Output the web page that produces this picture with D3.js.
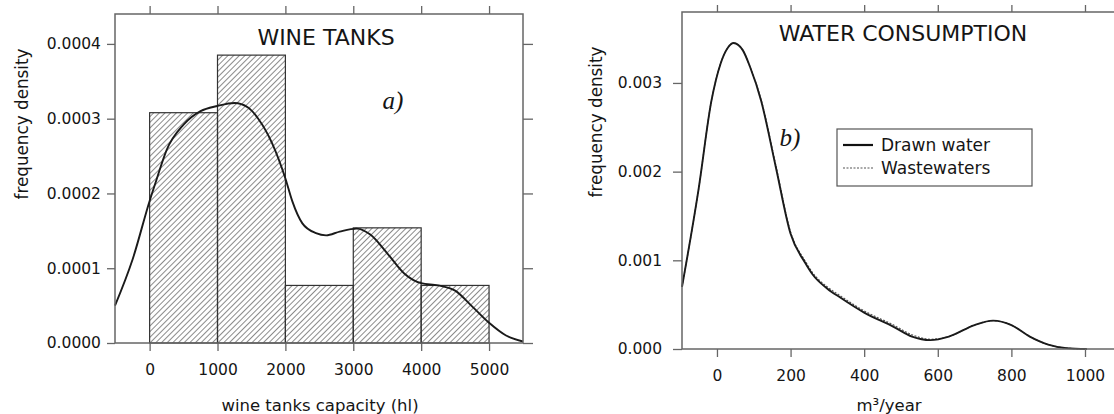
<!DOCTYPE html>
<html>
  <head>
    <meta charset="UTF-8">
    <title>Wine tanks and water consumption</title>
    <style>
      body { margin: 0; background: #fff; }
      svg { display: block; }
      text { font-family: "DejaVu Sans", sans-serif; fill: #151515; }
      .axis path { display: none; }
      .axis line { stroke: #666; stroke-width: 1.3; }
      .axis text { font-size: 15.5px; fill: #151515; }
    </style>
  </head>
  <body>
    <div id="chart"></div>

    <script src="https://d3js.org/d3.v7.min.js"></script>
    <script>

/* DATA */

// a) wine tanks histogram (bin edges in hl, frequency density per bin)
var wineBinEdges = [0, 1000, 2000, 3000, 4000, 5000];
var wineDensity = [0.000308, 0.000385, 0.000077, 0.000154, 0.000077];

// a) kernel density curve
var wineCurveX = [-510, -250, 0, 100, 250, 500, 750, 1000, 1250, 1450, 1600, 1800, 2000, 2100,
                  2250, 2450, 2600, 2800, 3050, 3250, 3500, 3750, 4000, 4250, 4500, 4750, 5000, 5250, 5500];
var wineCurveY = [0.000050, 0.000112, 0.000190, 0.000218, 0.000258, 0.000292, 0.000310, 0.000317,
                  0.000321, 0.000315, 0.000300, 0.000268, 0.000220, 0.000190, 0.000160, 0.000147,
                  0.000144, 0.000149, 0.000153, 0.000145, 0.000120, 0.000093, 0.000080, 0.000077,
                  0.000070, 0.000049, 0.000027, 0.000010, 0.000002];

// b) water consumption densities (m3/year)
var waterX = [-95, -50, -15, 10, 30, 45, 70, 90, 120, 160, 200, 240, 260, 300, 335, 400, 480,
              530, 580, 630, 700, 750, 800, 850, 900, 950, 1005];
var drawnY = [0.00070, 0.00180, 0.00280, 0.00322, 0.00340, 0.00345, 0.00337, 0.00318, 0.00280,
              0.00205, 0.00130, 0.00097, 0.00084, 0.00068, 0.00058, 0.00041, 0.00025,
              0.00014, 0.00010, 0.00014, 0.00027, 0.00032, 0.00027, 0.00014, 0.00005, 0.00001, 0.00000];
var wasteY = [0.00070, 0.00180, 0.00280, 0.00322, 0.00340, 0.00345, 0.00337, 0.00318, 0.00281,
              0.00207, 0.00132, 0.00099, 0.00086, 0.00070, 0.00060, 0.00043, 0.00027,
              0.00016, 0.00011, 0.00014, 0.00027, 0.00032, 0.00027, 0.00014, 0.00005, 0.00001, 0.00000];

// ticks
var wineTicksX = [0, 1000, 2000, 3000, 4000, 5000];
var wineTicksY = [0, 0.0001, 0.0002, 0.0003, 0.0004];
var waterTicksX = [0, 200, 400, 600, 800, 1000];
var waterTicksY = [0, 0.001, 0.002, 0.003];

var legendLabels = ["Drawn water", "Wastewaters"];

/* CHART */

var width = 1114, height = 414;

var svg = d3.select("#chart").append("svg")
    .attr("width", width)
    .attr("height", height);

svg.append("rect").attr("width", width).attr("height", height).attr("fill", "#fff");

var defs = svg.append("defs");
var hatch = defs.append("pattern")
    .attr("id", "hatch")
    .attr("patternUnits", "userSpaceOnUse")
    .attr("width", 4)
    .attr("height", 4)
    .attr("patternTransform", "rotate(45)");
hatch.append("line")
    .attr("x1", 0).attr("y1", 0).attr("x2", 0).attr("y2", 4)
    .attr("stroke", "#333").attr("stroke-width", 1.15);

/* ---- panel a) wine tanks ---- */
var xL = d3.scaleLinear().domain([-510, 5500]).range([115, 523]);
var yL = d3.scaleLinear().domain([0, 0.00044]).range([343, 14]);

var gL = svg.append("g");

var bins = wineDensity.map(function(d, i) {
  return {x0: wineBinEdges[i], x1: wineBinEdges[i + 1], y: d};
});

gL.selectAll(".bar")
    .data(bins)
  .enter().append("rect")
    .attr("class", "bar")
    .attr("x", function(d) { return xL(d.x0); })
    .attr("y", function(d) { return yL(d.y); })
    .attr("width", function(d) { return xL(d.x1) - xL(d.x0); })
    .attr("height", function(d) { return yL(0) - yL(d.y); })
    .attr("fill", "url(#hatch)")
    .attr("stroke", "#333")
    .attr("stroke-width", 1.2);

var wineLine = d3.line()
    .x(function(d, i) { return xL(wineCurveX[i]); })
    .y(function(d) { return yL(d); })
    .curve(d3.curveMonotoneX);

gL.append("path")
    .datum(wineCurveY)
    .attr("d", wineLine)
    .attr("fill", "none")
    .attr("stroke", "#1a1a1a")
    .attr("stroke-width", 1.9);

// frame
gL.append("rect")
    .attr("x", xL.range()[0]).attr("y", yL.range()[1])
    .attr("width", xL.range()[1] - xL.range()[0])
    .attr("height", yL.range()[0] - yL.range()[1])
    .attr("fill", "none").attr("stroke", "#666").attr("stroke-width", 1.5);

gL.append("g").attr("class", "axis")
    .attr("transform", "translate(0," + yL(0) + ")")
    .call(d3.axisBottom(xL).tickValues(wineTicksX).tickSize(8).tickPadding(13).tickFormat(d3.format("d")));
gL.append("g").attr("class", "axis")
    .attr("transform", "translate(0," + yL.range()[1] + ")")
    .call(d3.axisTop(xL).tickValues(wineTicksX).tickSize(8).tickFormat(""));
gL.append("g").attr("class", "axis")
    .attr("transform", "translate(" + xL.range()[0] + ",0)")
    .call(d3.axisLeft(yL).tickValues(wineTicksY).tickSize(8).tickPadding(6).tickFormat(d3.format(".4f")));
gL.append("g").attr("class", "axis")
    .attr("transform", "translate(" + xL.range()[1] + ",0)")
    .call(d3.axisRight(yL).tickValues(wineTicksY).tickSize(10).tickFormat(""));

gL.append("text")
    .attr("x", 326).attr("y", 37).attr("dy", "0.36em")
    .attr("text-anchor", "middle")
    .style("font-size", "22px")
    .text("WINE TANKS");

gL.append("text")
    .attr("x", 393).attr("y", 101).attr("dy", "0.33em")
    .attr("text-anchor", "middle")
    .style("font-family", "'Liberation Serif', serif")
    .style("font-style", "italic")
    .style("font-size", "25px")
    .text("a)");

gL.append("text")
    .attr("x", 320).attr("y", 405).attr("dy", "0.36em")
    .attr("text-anchor", "middle")
    .style("font-size", "16.5px")
    .text("wine tanks capacity (hl)");

gL.append("text")
    .attr("transform", "translate(22,124) rotate(-90)")
    .attr("dy", "0.36em")
    .attr("text-anchor", "middle")
    .style("font-size", "16.8px")
    .text("frequency density");

/* ---- panel b) water consumption ---- */
var xR = d3.scaleLinear().domain([-95, 1125]).range([682, 1131]);
var yR = d3.scaleLinear().domain([0, 0.0038]).range([349, 12]);

var gR = svg.append("g");

var waterLine = function(ys) {
  return d3.line()
    .x(function(d, i) { return xR(waterX[i]); })
    .y(function(d) { return yR(d); })
    .curve(d3.curveMonotoneX)(ys);
};

gR.append("path")
    .attr("d", waterLine(wasteY))
    .attr("fill", "none")
    .attr("stroke", "#555")
    .attr("stroke-width", 1.2)
    .attr("stroke-dasharray", "2,1.5");

gR.append("path")
    .attr("d", waterLine(drawnY))
    .attr("fill", "none")
    .attr("stroke", "#1a1a1a")
    .attr("stroke-width", 1.9);

gR.append("rect")
    .attr("x", xR.range()[0]).attr("y", yR.range()[1])
    .attr("width", xR.range()[1] - xR.range()[0])
    .attr("height", yR.range()[0] - yR.range()[1])
    .attr("fill", "none").attr("stroke", "#666").attr("stroke-width", 1.5);

gR.append("g").attr("class", "axis")
    .attr("transform", "translate(0," + yR(0) + ")")
    .call(d3.axisBottom(xR).tickValues(waterTicksX).tickSize(8).tickPadding(13).tickFormat(d3.format("d")));
gR.append("g").attr("class", "axis")
    .attr("transform", "translate(0," + yR.range()[1] + ")")
    .call(d3.axisTop(xR).tickValues(waterTicksX).tickSize(7).tickFormat(""));
gR.append("g").attr("class", "axis")
    .attr("transform", "translate(" + xR.range()[0] + ",0)")
    .call(d3.axisLeft(yR).tickValues(waterTicksY).tickSize(9).tickPadding(11).tickFormat(d3.format(".3f")));

gR.append("text")
    .attr("x", 903).attr("y", 33).attr("dy", "0.36em")
    .attr("text-anchor", "middle")
    .style("font-size", "22px")
    .text("WATER CONSUMPTION");

gR.append("text")
    .attr("x", 790).attr("y", 138).attr("dy", "0.33em")
    .attr("text-anchor", "middle")
    .style("font-family", "'Liberation Serif', serif")
    .style("font-style", "italic")
    .style("font-size", "25px")
    .text("b)");

gR.append("text")
    .attr("x", 889).attr("y", 405).attr("dy", "0.36em")
    .attr("text-anchor", "middle")
    .style("font-size", "16.5px")
    .text("m³/year");

gR.append("text")
    .attr("transform", "translate(596,122) rotate(-90)")
    .attr("dy", "0.36em")
    .attr("text-anchor", "middle")
    .style("font-size", "16.8px")
    .text("frequency density");

// legend
var legend = gR.append("g").attr("transform", "translate(837,129)");
legend.append("rect")
    .attr("width", 195).attr("height", 57)
    .attr("fill", "#fff").attr("stroke", "#555").attr("stroke-width", 1.2);
var item = legend.selectAll(".item")
    .data(legendLabels)
  .enter().append("g")
    .attr("class", "item")
    .attr("transform", function(d, i) { return "translate(0," + (16 + i * 23) + ")"; });
item.append("line")
    .attr("x1", 6).attr("x2", 36)
    .attr("stroke", function(d, i) { return i === 0 ? "#111" : "#555"; })
    .attr("stroke-width", function(d, i) { return i === 0 ? 2.2 : 1.2; })
    .attr("stroke-dasharray", function(d, i) { return i === 0 ? null : "2,1.5"; });
item.append("text")
    .attr("x", 44).attr("dy", "0.36em")
    .style("font-size", "17px")
    .text(function(d) { return d; });

    </script>
  </body>
</html>
